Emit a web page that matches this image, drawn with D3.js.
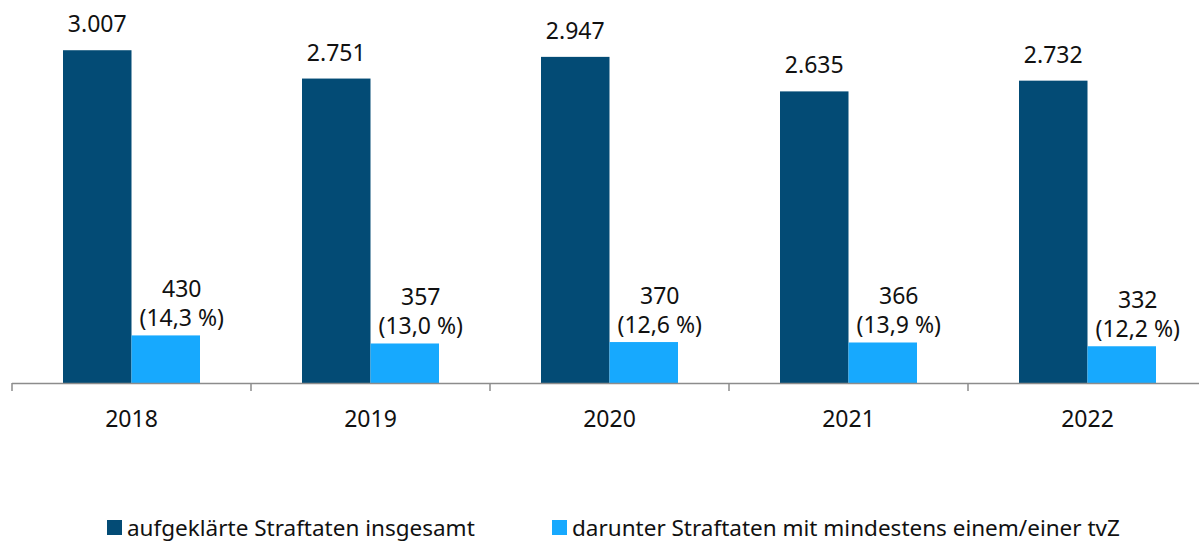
<!DOCTYPE html>
<html>
<head>
<meta charset="utf-8">
<title>Straftaten</title>
<style>
  body { margin: 0; background: #fff; }
  text { font-family: "Noto Sans", sans-serif; fill: #111; }
</style>
</head>
<body>
<script src="https://d3js.org/d3.v7.min.js"></script>
<script>

var years = ["2018", "2019", "2020", "2021", "2022"];
var total = [3007, 2751, 2947, 2635, 2732];
var withTvz = [430, 357, 370, 366, 332];
var shares = ["14,3", "13,0", "12,6", "13,9", "12,2"];
var seriesNames = ["aufgeklärte Straftaten insgesamt", "darunter Straftaten mit mindestens einem/einer tvZ"];

var dark = "#034b75", light = "#17a9fe";
var fmt = d3.formatLocale({decimal: ",", thousands: ".", grouping: [3]}).format(",");

var svg = d3.select("body")
    .append("svg")
    .attr("width", 1199)
    .attr("height", 542);

var x = d3.scaleBand()
    .domain(years)
    .range([12, 12 + 5 * 239]);

var y = d3.scaleLinear()
    .domain([0, 3000])
    .range([383, 51]);

var barW = 68.5;

// dark bars
svg.selectAll("rect.total")
    .data(years)
    .enter()
    .append("rect")
    .attr("class", "total")
    .attr("x", function(d){ return x(d) + x.bandwidth() / 2 - barW; })
    .attr("y", function(d, i){ return y(total[i]); })
    .attr("width", barW)
    .attr("height", function(d, i){ return y(0) - y(total[i]); })
    .attr("fill", dark);

// light bars
svg.selectAll("rect.tvz")
    .data(years)
    .enter()
    .append("rect")
    .attr("class", "tvz")
    .attr("x", function(d){ return x(d) + x.bandwidth() / 2; })
    .attr("y", function(d, i){ return y(withTvz[i]); })
    .attr("width", barW)
    .attr("height", function(d, i){ return y(0) - y(withTvz[i]); })
    .attr("fill", light);

// labels on dark bars
svg.selectAll("text.lt")
    .data(years)
    .enter()
    .append("text")
    .attr("class", "lt")
    .attr("x", function(d){ return x(d) + x.bandwidth() / 2 - barW / 2; })
    .attr("y", function(d, i){ return y(total[i]) - 18; })
    .attr("text-anchor", "middle")
    .style("font-size", "23px")
    .text(function(d, i){ return fmt(total[i]); });

// labels on light bars (two lines)
var lab = svg.selectAll("g.ll")
    .data(years)
    .enter()
    .append("g")
    .attr("class", "ll")
    .attr("transform", function(d, i){
        return "translate(" + (x(d) + x.bandwidth() / 2 + barW / 2 + 16) + "," + (y(withTvz[i]) - 9) + ")";
    });
lab.append("text")
    .attr("y", -29)
    .attr("text-anchor", "middle")
    .style("font-size", "23px")
    .text(function(d, i){ return withTvz[i]; });
lab.append("text")
    .attr("y", 0)
    .attr("text-anchor", "middle")
    .style("font-size", "23px")
    .text(function(d, i){ return "(" + shares[i] + " %)"; });

// x axis
svg.append("line")
    .attr("x1", 12).attr("x2", 1199)
    .attr("y1", 383.5).attr("y2", 383.5)
    .attr("stroke", "#8c8c8c")
    .attr("stroke-width", 1.5);

svg.selectAll("line.tick")
    .data(years)
    .enter()
    .append("line")
    .attr("class", "tick")
    .attr("x1", function(d){ return x(d); })
    .attr("x2", function(d){ return x(d); })
    .attr("y1", 383)
    .attr("y2", 391)
    .attr("stroke", "#8c8c8c")
    .attr("stroke-width", 1.5);

svg.selectAll("text.year")
    .data(years)
    .enter()
    .append("text")
    .attr("class", "year")
    .attr("x", function(d){ return x(d) + x.bandwidth() / 2; })
    .attr("y", 427)
    .attr("text-anchor", "middle")
    .style("font-size", "23px")
    .text(function(d){ return d; });

// legend
var legX = [107, 552];
var leg = svg.selectAll("g.legend")
    .data(seriesNames)
    .enter()
    .append("g")
    .attr("class", "legend")
    .attr("transform", function(d, i){ return "translate(" + legX[i] + ",0)"; });
leg.append("rect")
    .attr("x", 0)
    .attr("y", 520)
    .attr("width", 15)
    .attr("height", 15)
    .attr("fill", function(d, i){ return i === 0 ? dark : light; });
leg.append("text")
    .attr("x", 20)
    .attr("y", 536)
    .style("font-size", "22.5px")
    .text(function(d){ return d; });

</script>
</body>
</html>
